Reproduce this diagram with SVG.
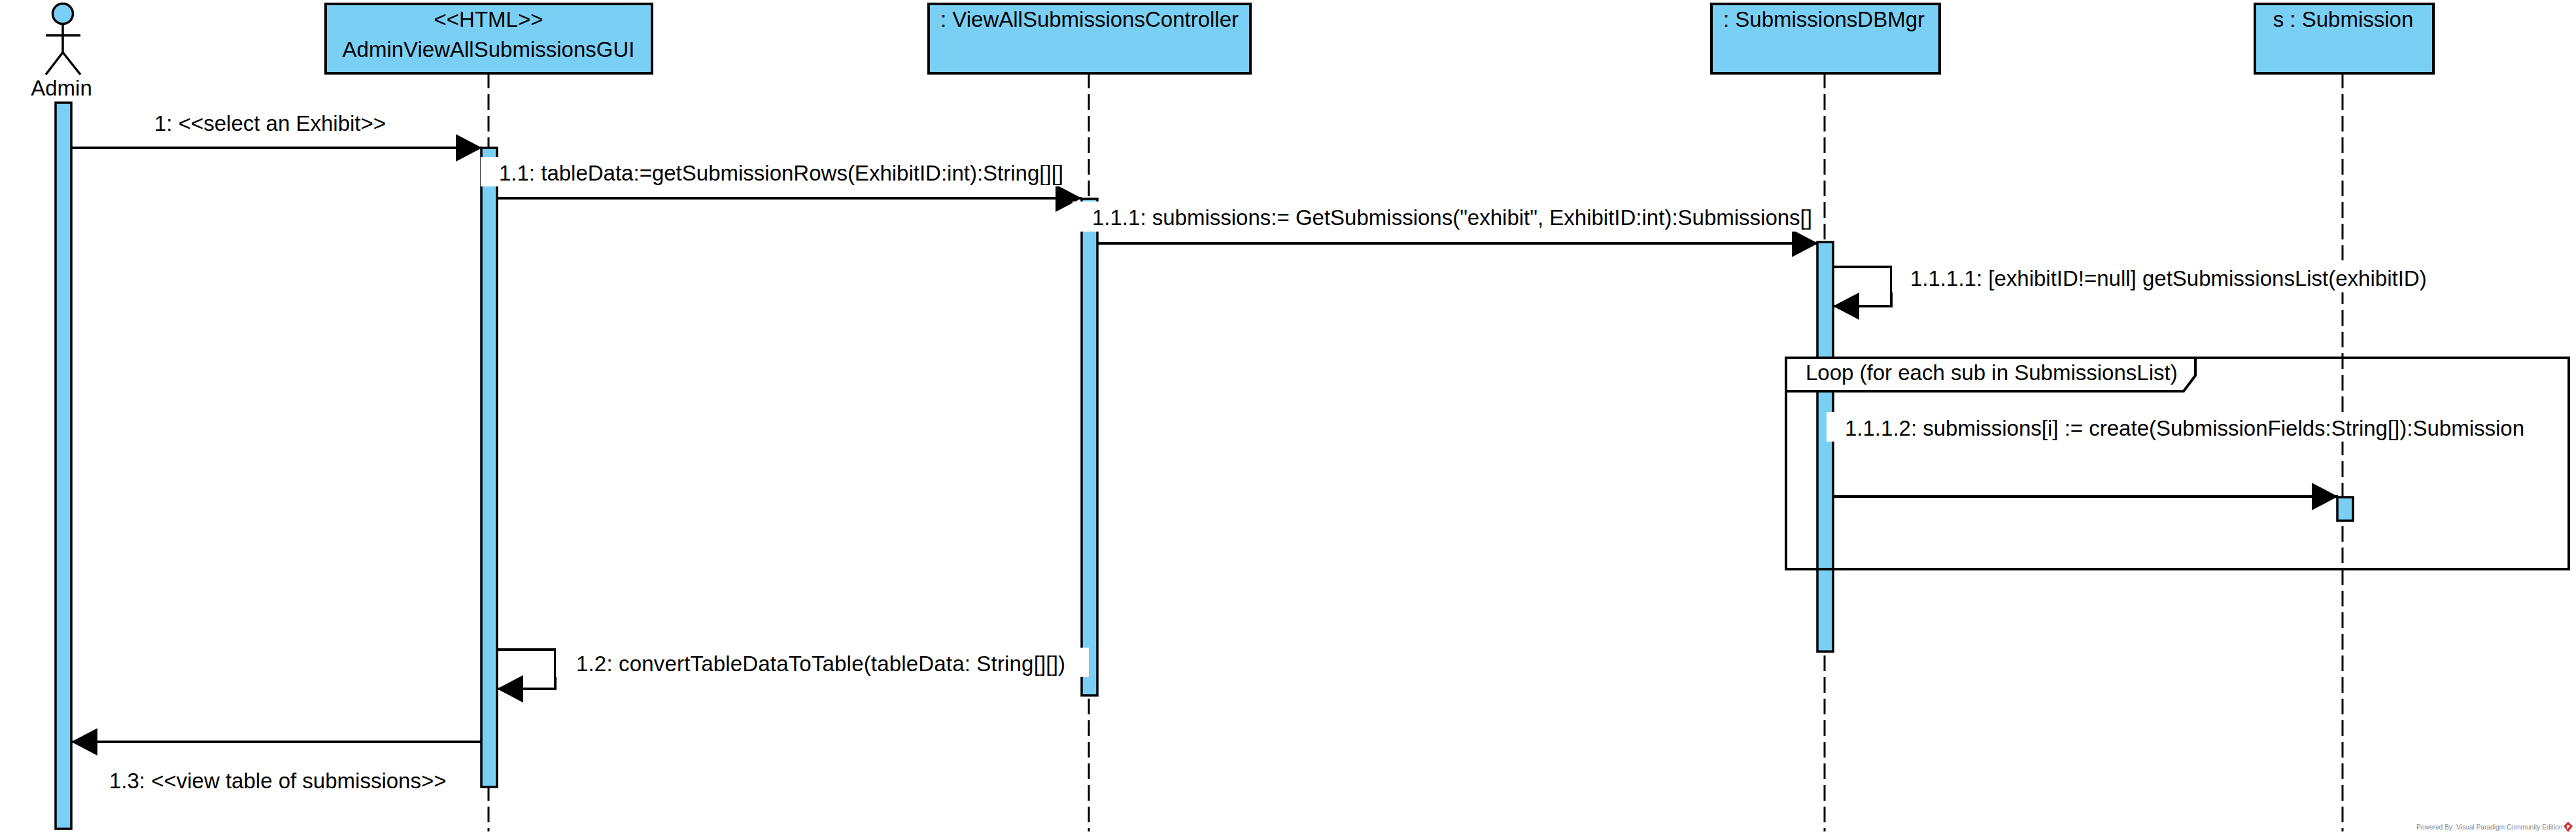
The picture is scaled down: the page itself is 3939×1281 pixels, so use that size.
<svg xmlns="http://www.w3.org/2000/svg" width="3939" height="1281" viewBox="0 0 3939 1281">
<style>
text{font-family:"Liberation Sans",Arial,sans-serif;font-size:33px;fill:#000}
.box{fill:#7ACFF5;stroke:#000;stroke-width:4}
.act{fill:#7ACFF5;stroke:#000;stroke-width:3.5}
.life{fill:none;stroke:#000;stroke-width:3;stroke-dasharray:24 9}
.msg{fill:none;stroke:#000;stroke-width:4}
.mask{fill:#fff;stroke:none}
.stick{fill:none;stroke:#000;stroke-width:3.5}
.frame{fill:none;stroke:#000;stroke-width:4}
.mid{text-anchor:middle}
.wm{font-size:10.2px;fill:#8a8a8a}
</style>
<defs>
<marker id="head" markerUnits="userSpaceOnUse" markerWidth="42" markerHeight="42" viewBox="0 0 42 42" refX="40" refY="21" orient="auto"><path d="M0 0L40 21L0 42Z" fill="#000"/></marker>
</defs>
<rect width="3939" height="1281" fill="#fff"/>
<g id="actor-admin">
<ellipse cx="96" cy="21" rx="15.5" ry="15.5" class="box" style="stroke-width:3.5"/>
<path class="stick" d="M96 37V80M70 54H123M70 114L96 80L123 114"/>
<text class="mid" x="94" y="146">Admin</text>
<rect class="act" x="85" y="157" width="24" height="1110"/>
</g>
<g id="gui">
<line class="life" x1="747" y1="111" x2="747" y2="1271"/>
<rect class="box" x="498" y="6" width="499" height="106"/>
<text class="mid" x="747" y="41">&lt;&lt;HTML&gt;&gt;</text>
<text class="mid" x="747" y="87">AdminViewAllSubmissionsGUI</text>
<rect class="act" x="736" y="226" width="24" height="977"/>
</g>
<g id="controller">
<line class="life" x1="1665" y1="111" x2="1665" y2="1271"/>
<rect class="box" x="1420" y="6" width="492" height="106"/>
<text class="mid" x="1666" y="41">: ViewAllSubmissionsController</text>
<rect class="act" x="1654" y="304" width="24" height="759"/>
</g>
<g id="dbmgr">
<line class="life" x1="2790" y1="111" x2="2790" y2="1271"/>
<rect class="box" x="2617" y="6" width="349" height="106"/>
<text class="mid" x="2789" y="41">: SubmissionsDBMgr</text>
<rect class="act" x="2779" y="370" width="24" height="626"/>
</g>
<g id="submission">
<line class="life" x1="3582" y1="111" x2="3582" y2="1271"/>
<rect class="box" x="3448" y="6" width="273" height="106"/>
<text class="mid" x="3583" y="41">s : Submission</text>
<rect class="act" x="3574" y="760" width="24" height="36"/>
</g>
<g id="loop">
<rect class="frame" x="2731" y="547" width="1197" height="323"/>
<path d="M2731 547H3357V574L3339 598H2731Z" fill="#fff" stroke="#000" stroke-width="4"/>
<text x="2761" y="581">Loop (for each sub in SubmissionsList)</text>
</g>
<g id="connectors">
<path class="msg" d="M109 226H737" marker-end="url(#head)"/>
<text x="236" y="200">1: &lt;&lt;select an Exhibit&gt;&gt;</text>
<path class="msg" d="M760 303H1654" marker-end="url(#head)"/>
<rect class="mask" x="735" y="240" width="918" height="45"/>
<text x="763" y="276">1.1: tableData:=getSubmissionRows(ExhibitID:int):String[][]</text>
<path class="msg" d="M1678 372H2780" marker-end="url(#head)"/>
<rect class="mask" x="1640" y="308" width="1138" height="46"/>
<text x="1670" y="344">1.1.1: submissions:= GetSubmissions("exhibit", ExhibitID:int):Submissions[]</text>
<path class="msg" d="M2803 408H2892V468H2803" marker-end="url(#head)"/>
<rect class="mask" x="2893" y="398" width="850" height="49"/>
<text x="2921" y="437">1.1.1.1: [exhibitID!=null] getSubmissionsList(exhibitID)</text>
<rect class="mask" x="2793" y="630" width="1095" height="45"/>
<text x="2821" y="666">1.1.1.2: submissions[i] := create(SubmissionFields:String[]):Submission</text>
<path class="msg" d="M2803 759H3575" marker-end="url(#head)"/>
<path class="msg" d="M760 993H849V1053H760" marker-end="url(#head)"/>
<rect class="mask" x="850" y="990" width="815" height="45"/>
<text x="881" y="1026" textLength="748">1.2: convertTableDataToTable(tableData: String[][])</text>
<path class="msg" d="M736 1134H109" marker-end="url(#head)"/>
<text x="167" y="1205">1.3: &lt;&lt;view table of submissions&gt;&gt;</text>
</g>
<g id="watermark">
<text class="wm" x="3695" y="1268">Powered By<tspan fill="#ccc">□</tspan>Visual Paradigm Community Edition</text>
<path d="M3927 1256L3934 1263L3927 1272L3920 1263Z" fill="#d2343a"/>
<path d="M3925 1261H3929V1265H3927V1267H3925Z" fill="#fff"/>
</g>
</svg>
